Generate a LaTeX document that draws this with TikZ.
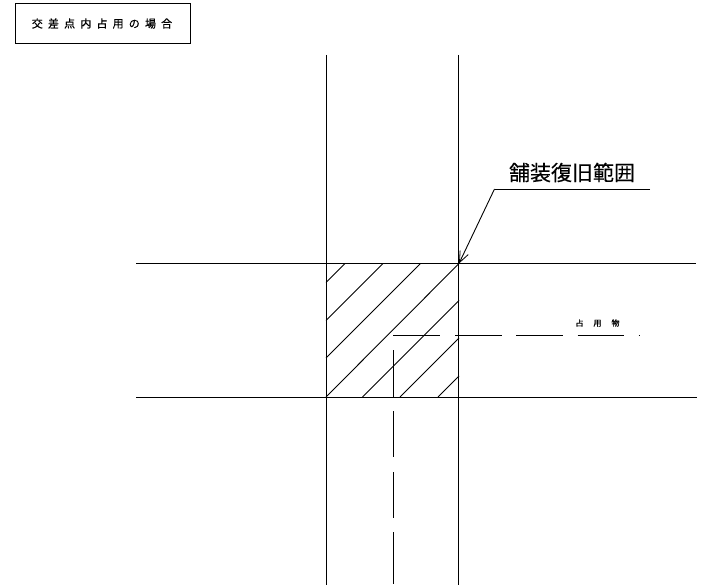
\documentclass[tikz,border=0pt]{standalone}
\usepackage{fontspec}
\setmainfont{Liberation Sans}
\newfontfamily\jpfont[FakeBold=0.2]{Noto Sans CJK JP}
\newfontfamily\jpwide[LetterSpace=47,FakeBold=0.6]{Noto Sans CJK JP}
\newfontfamily\jpwider[LetterSpace=125,FakeBold=0.6]{Noto Sans CJK JP}
\usetikzlibrary{arrows.meta}
\tikzset{
  road/.style={line width=1pt, black},
  hatch/.style={line width=0.9pt, black},
  center line/.style={line width=1pt, black},
}
\begin{document}
\begin{tikzpicture}[x=1pt, y=-1pt, every node/.style={inner sep=0pt, outer sep=0pt}]
\useasboundingbox (0,0) rectangle (704,585);
% Title box
\draw[line width=1pt, black] (15.5,3.5) rectangle (190.5,43.5);
\node (title) at (102,23.5) {\jpwide\fontsize{11}{12}\selectfont 交差点内占用の場合};
% Road edges
\coordinate (v1t) at (326,55); \coordinate (v1b) at (326,585);
\coordinate (v2t) at (458.5,55); \coordinate (v2b) at (458.5,585);
\coordinate (h1l) at (136,263.5); \coordinate (h1r) at (696,263.5);
\coordinate (h2l) at (136,397); \coordinate (h2r) at (697,397);
\draw[road] (v1t) -- (v1b); \draw[road] (v2t) -- (v2b);
\draw[road] (h1l) -- (h1r); \draw[road] (h2l) -- (h2r);
\draw[line width=1.4pt, black] (458.5,492) -- (458.5,515);
% Hatching inside the crossing
\draw[hatch] (326,282.5) -- (345,263.5);
\draw[hatch] (326,320.5) -- (383,263.5);
\draw[hatch] (326,358) -- (420.5,263.5);
\draw[hatch] (326,397) -- (459,263.5);
\draw[hatch] (362.5,397) -- (459,300.5);
\draw[hatch] (400,397) -- (459,338);
\draw[hatch] (438,397) -- (459,376);
% Occupying object (long dashes)
\foreach \a/\b in {393/440, 455/501.5, 516/563, 577.5/624, 638.5/639.5}
  \draw[center line] (\a,335.5) -- (\b,335.5);
\foreach \a/\b in {350/397, 411/457, 472/518, 532/584}
  \draw[center line] (393.5,\a) -- (393.5,\b);
\node (occupy) at (597.5,323) {\jpwider\fontsize{8}{9}\selectfont 占用物};
% Leader to the paving area
\node (paving) at (572,172.5) {\jpfont\fontsize{21}{24}\selectfont 舗装復旧範囲};
\coordinate (lead) at (494.5,189); \coordinate (leadend) at (650,189); \coordinate (corner) at (459,263.5);
\draw[line width=0.9pt, black] (leadend) -- (lead);
\draw[line width=0.9pt, black, -{Straight Barb[length=11pt, width=9pt, line width=0.8pt]}] (lead) -- (corner);
\end{tikzpicture}
\end{document}
